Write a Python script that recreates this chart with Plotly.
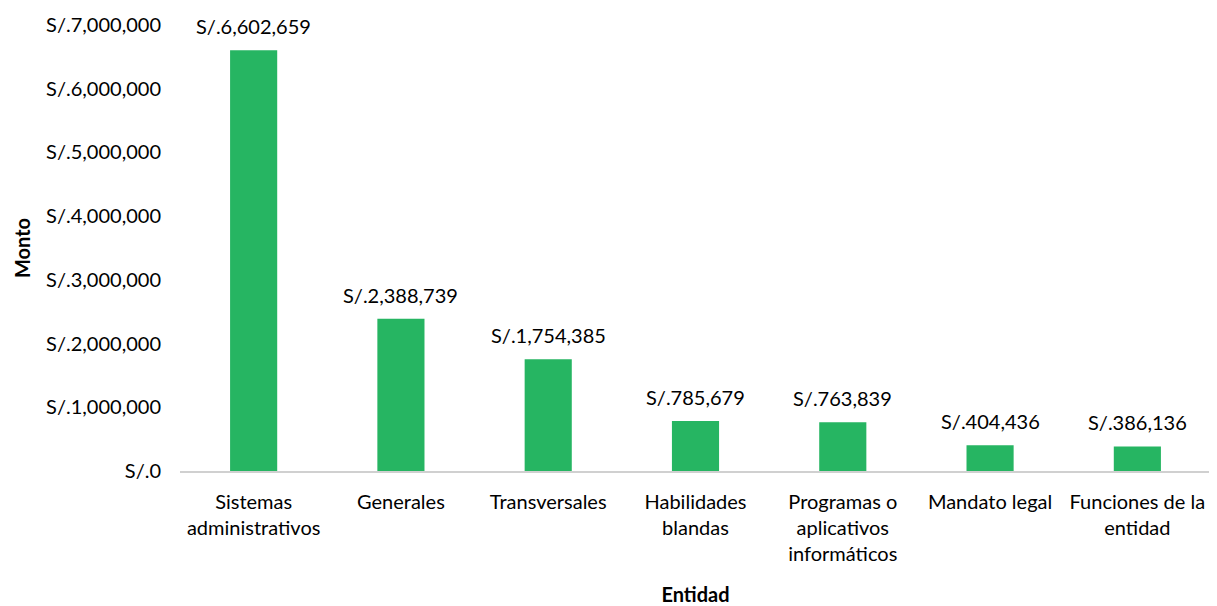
import plotly.graph_objects as go

# ── Data ───────────────────────────────────────────────────────────
categorias = [
    "Sistemas<br>administrativos",
    "Generales",
    "Transversales",
    "Habilidades<br>blandas",
    "Programas o<br>aplicativos<br>informáticos",
    "Mandato legal",
    "Funciones de la<br>entidad",
]
montos = [6602659, 2388739, 1754385, 785679, 763839, 404436, 386136]
y_ticks = [0, 1000000, 2000000, 3000000, 4000000, 5000000, 6000000, 7000000]
y_tick_labels = [f"S/.{v:,}" for v in y_ticks]

GREEN = "#26B562"
FONT = "Lato, Open Sans, sans-serif"

fig = go.Figure(go.Bar(
    x=categorias,
    y=montos,
    marker_color=GREEN,
    marker_line_width=0,
))

# value labels above each bar
for cat, val in zip(categorias, montos):
    fig.add_annotation(
        x=cat, y=val, text=f"S/.{val:,}",
        showarrow=False, yanchor="bottom", yshift=10,
        font=dict(size=20, color="#000000", family=FONT),
    )

fig.update_layout(
    width=1217,
    height=606,
    plot_bgcolor="white",
    paper_bgcolor="white",
    margin=dict(l=172, r=14, t=17, b=143),
    bargap=0.68,
    showlegend=False,
    font=dict(family=FONT, size=20, color="#000000"),
)
fig.update_xaxes(
    showline=True, linecolor="#D0D0D0", linewidth=2,
    showgrid=False, ticks="", ticklabelstandoff=12,
    automargin=False,
    tickfont=dict(size=20, color="#000000"),
    title=dict(text="<b>Entidad</b>", font=dict(size=20), standoff=24),
)
fig.update_yaxes(
    range=[0, 7000000],
    tickvals=y_ticks, ticktext=y_tick_labels,
    showline=False, showgrid=False, zeroline=False,
    ticks="", ticklabelstandoff=18,
    automargin=False, ticklabeloverflow="allow",
    tickfont=dict(size=20, color="#000000"),
    title=dict(text="<b>Monto</b>", font=dict(size=20), standoff=10),
)

fig.write_html("out.html")
